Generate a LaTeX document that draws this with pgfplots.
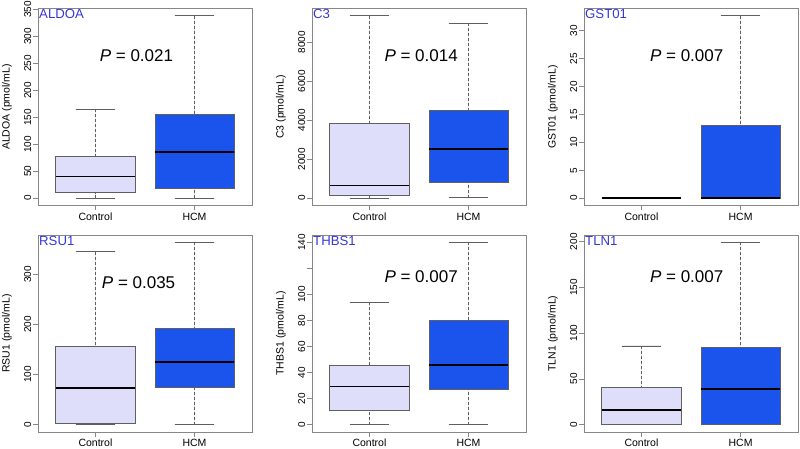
\documentclass[border=0pt]{standalone}
\usepackage{pgfplots}
\pgfplotsset{compat=1.18}
\usepgfplotslibrary{statistics}
\usepackage{fontspec}
\setmainfont{Liberation Sans}
\definecolor{ctrl}{RGB}{222,222,250}
\definecolor{hcm}{RGB}{26,84,236}
\definecolor{ttl}{RGB}{55,55,215}
\definecolor{framec}{RGB}{135,135,135}
\definecolor{bord}{RGB}{95,95,95}
\tikzset{
  ptext/.style={font=\fontsize{17}{20}\selectfont},
  ttext/.style={anchor=north west, text=ttl, font=\fontsize{13.2}{15}\selectfont, inner sep=1pt},
}
\pgfplotsset{
  panel/.style={
    scale only axis, width=214pt, height=197pt,
    anchor=south west,
    xmin=0.42, xmax=2.58,
    xtick={1,2}, xticklabels={Control,HCM},
    axis line style={framec, line width=0.7pt},
    tick style={framec, line width=0.7pt},
    tick align=outside,
    xtick pos=bottom, ytick pos=left,
    major tick length=5pt,
    scaled y ticks=false,
    /pgf/number format/assume math mode=true,
    /pgf/number format/set thousands separator={},
    yticklabel style={font=\fontsize{10}{11}\selectfont, rotate=90, anchor=south, inner sep=1.5pt},
    xticklabel style={font=\fontsize{10.5}{12}\selectfont, inner sep=2pt},
    every axis y label/.style={at={(rel axis cs:-0.145,0.5)}, rotate=90, anchor=center, font=\fontsize{10.5}{12}\selectfont},
    boxplot/draw direction=y,
    boxplot/box extend=0.8,
    boxplot/whisker extend=0.4,
    boxplot/every median/.style={black, line width=1.7pt},
    boxplot/draw/lower whisker/.code={%
      \draw[bord, line width=0.7pt, dash pattern=on 3pt off 2pt]
        (boxplot box cs:\pgfplotsboxplotvalue{lower whisker},0.5) -- (boxplot box cs:\pgfplotsboxplotvalue{lower quartile},0.5);
      \draw[bord, line width=0.8pt, solid]
        (boxplot whisker cs:\pgfplotsboxplotvalue{lower whisker},0) -- (boxplot whisker cs:\pgfplotsboxplotvalue{lower whisker},1);
    },
    boxplot/draw/upper whisker/.code={%
      \draw[bord, line width=0.7pt, dash pattern=on 3pt off 2pt]
        (boxplot box cs:\pgfplotsboxplotvalue{upper whisker},0.5) -- (boxplot box cs:\pgfplotsboxplotvalue{upper quartile},0.5);
      \draw[bord, line width=0.8pt, solid]
        (boxplot whisker cs:\pgfplotsboxplotvalue{upper whisker},0) -- (boxplot whisker cs:\pgfplotsboxplotvalue{upper whisker},1);
    },
  },
  cbox/.style={draw=bord, fill=ctrl, line width=0.8pt, solid},
  hbox/.style={draw=bord, fill=hcm, line width=0.8pt, solid},
}
\begin{document}
\begin{tikzpicture}
\path[use as bounding box] (0pt,0pt) rectangle (800pt,449pt);
% ALDOA
\begin{axis}[panel, at={(38pt,243.5pt)}, ymin=-13.5, ymax=351.5, ytick={0,50,...,350}, ylabel={ALDOA (pmol/mL)}]
\addplot[cbox, boxplot prepared={lower whisker=0, lower quartile=10, median=40, upper quartile=78, upper whisker=165, draw position=1}] coordinates {};
\addplot[hbox, boxplot prepared={lower whisker=0, lower quartile=18, median=85, upper quartile=155, upper whisker=338, draw position=2}] coordinates {};
\node[ptext] at (rel axis cs:0.46,0.76) {\textit{P} = 0.021};
\node[ttext] at (rel axis cs:0,1) {ALDOA};
\end{axis}
% C3
\begin{axis}[panel, at={(312pt,243.5pt)}, ymin=-374, ymax=9734, ytick={0,2000,...,8000}, ylabel={C3 (pmol/mL)}]
\addplot[cbox, boxplot prepared={lower whisker=0, lower quartile=130, median=650, upper quartile=3850, upper whisker=9360, draw position=1}] coordinates {};
\addplot[hbox, boxplot prepared={lower whisker=30, lower quartile=820, median=2520, upper quartile=4500, upper whisker=8980, draw position=2}] coordinates {};
\node[ptext] at (rel axis cs:0.51,0.76) {\textit{P} = 0.014};
\node[ttext] at (rel axis cs:0,1) {C3};
\end{axis}
% GST01
\begin{axis}[panel, at={(584pt,243.5pt)}, ymin=-1.31, ymax=34.0, ytick={0,5,...,30}, ylabel={GST01 (pmol/mL)}]
\addplot[cbox, boxplot prepared={lower whisker=0, lower quartile=0, median=0, upper quartile=0, upper whisker=0, draw position=1}] coordinates {};
\addplot[hbox, boxplot prepared={lower whisker=0, lower quartile=0, median=0.05, upper quartile=13.1, upper whisker=32.7, draw position=2}] coordinates {};
\node[ptext] at (rel axis cs:0.48,0.76) {\textit{P} = 0.007};
\node[ttext] at (rel axis cs:0,1) {GST01};
\end{axis}
% RSU1
\begin{axis}[panel, at={(38pt,17pt)}, ymin=-14.6, ymax=379.1, ytick={0,100,200,300}, ylabel={RSU1 (pmol/mL)}]
\addplot[cbox, boxplot prepared={lower whisker=0, lower quartile=2, median=73, upper quartile=157, upper whisker=346, draw position=1}] coordinates {};
\addplot[hbox, boxplot prepared={lower whisker=0, lower quartile=74.5, median=125, upper quartile=191.5, upper whisker=364.5, draw position=2}] coordinates {};
\node[ptext] at (rel axis cs:0.47,0.76) {\textit{P} = 0.035};
\node[ttext] at (rel axis cs:0,1) {RSU1};
\end{axis}
% THBS1
\begin{axis}[panel, at={(312pt,17pt)}, ymin=-5.6, ymax=145.6, ytick={0,20,...,140}, yticklabels={0,20,40,60,80,100,,140}, ylabel={THBS1 (pmol/mL)}]
\addplot[cbox, boxplot prepared={lower whisker=0, lower quartile=11.3, median=29.4, upper quartile=45.6, upper whisker=94, draw position=1}] coordinates {};
\addplot[hbox, boxplot prepared={lower whisker=0, lower quartile=27.1, median=45.6, upper quartile=80.4, upper whisker=140, draw position=2}] coordinates {};
\node[ptext] at (rel axis cs:0.51,0.79) {\textit{P} = 0.007};
\node[ttext] at (rel axis cs:0,1) {THBS1};
\end{axis}
% TLN1
\begin{axis}[panel, at={(584pt,17pt)}, ymin=-8, ymax=207.3, ytick={0,50,...,200}, ylabel={TLN1 (pmol/mL)}]
\addplot[cbox, boxplot prepared={lower whisker=0, lower quartile=0, median=15.7, upper quartile=40.5, upper whisker=86, draw position=1}] coordinates {};
\addplot[hbox, boxplot prepared={lower whisker=0, lower quartile=0.5, median=39, upper quartile=85, upper whisker=199.3, draw position=2}] coordinates {};
\node[ptext] at (rel axis cs:0.48,0.79) {\textit{P} = 0.007};
\node[ttext] at (rel axis cs:0,1) {TLN1};
\end{axis}
\end{tikzpicture}
\end{document}
